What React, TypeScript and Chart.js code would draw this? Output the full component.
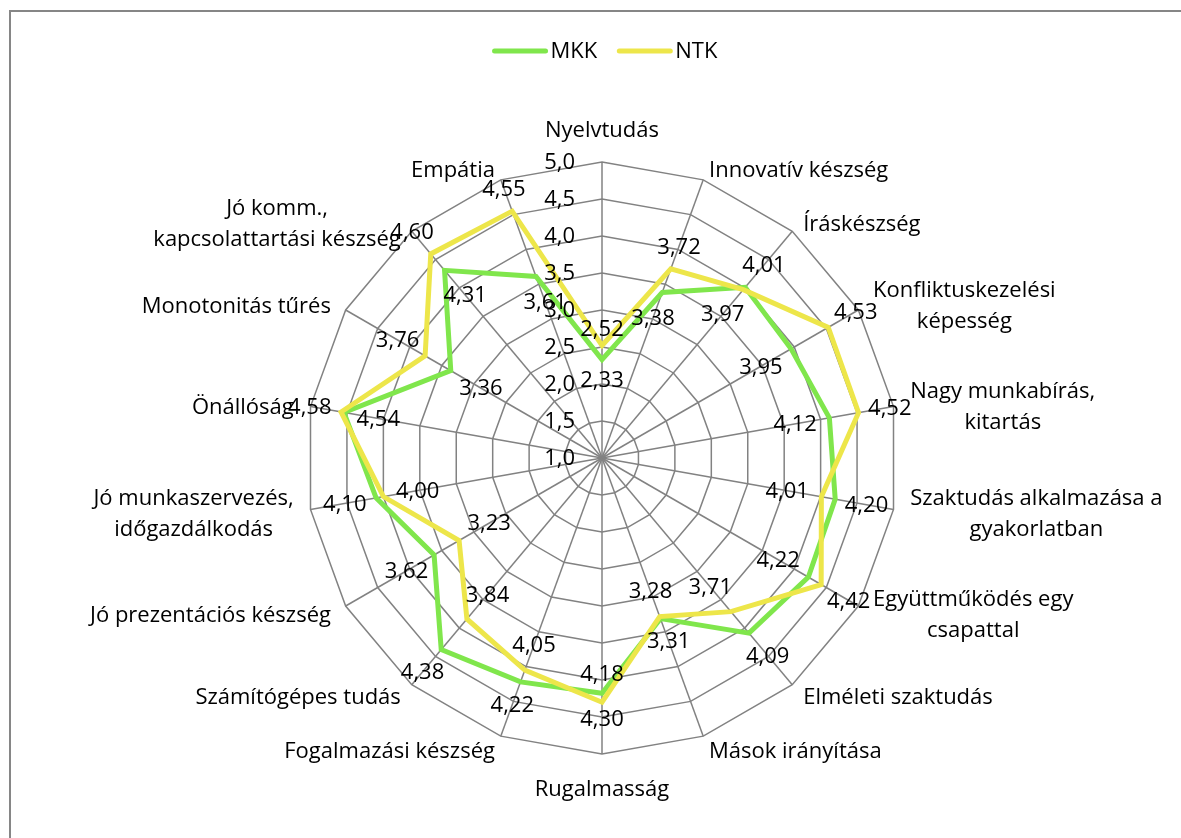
import React, { useEffect, useRef } from "react";
import { Chart, registerables } from "chart.js";

Chart.register(...registerables);

const categories: (string | string[])[] = [
  "Nyelvtudás",
  "Innovatív készség",
  "Íráskészség",
  ["Konfliktuskezelési", "képesség"],
  ["Nagy munkabírás,", "kitartás"],
  ["Szaktudás alkalmazása a", "gyakorlatban"],
  ["Együttműködés egy", "csapattal"],
  "Elméleti szaktudás",
  "Mások irányítása",
  "Rugalmasság",
  "Fogalmazási készség",
  "Számítógépes tudás",
  "Jó prezentációs készség",
  ["Jó munkaszervezés,", "időgazdálkodás"],
  "Önállóság",
  "Monotonitás tűrés",
  ["Jó komm.,", "kapcsolattartási készség"],
  "Empátia",
];

const mkkValues = [2.33, 3.38, 4.01, 3.95, 4.12, 4.2, 4.22, 4.09, 3.31, 4.18, 4.22, 4.38, 3.62, 4.1, 4.54, 3.36, 4.31, 3.61];
const ntkValues = [2.52, 3.72, 3.97, 4.53, 4.52, 4.01, 4.42, 3.71, 3.28, 4.3, 4.05, 3.84, 3.23, 4.0, 4.58, 3.76, 4.6, 4.55];
const tickValues = [1.0, 1.5, 2.0, 2.5, 3.0, 3.5, 4.0, 4.5, 5.0];
const seriesNames = ["MKK", "NTK"];
const seriesColors = ["#80E64C", "#EDE64A"];

const FONT = '22px "Open Sans"';
const fmt = (v: number, d: number) => v.toFixed(d).replace(".", ",");

const overlayPlugin = {
  id: "overlay",
  afterLayout(chart: any) {
    const r = chart.scales.r;
    const ca = chart.chartArea;
    r.xCenter = (ca.left + ca.right) / 2;
    r.yCenter = (ca.top + ca.bottom) / 2;
    r.drawingArea = Math.min(ca.right - ca.left, ca.bottom - ca.top) / 2;
  },
  beforeDraw(chart: any) {
    const ctx = chart.ctx;
    ctx.save();
    ctx.fillStyle = "#ffffff";
    ctx.fillRect(0, 0, chart.width, chart.height);
    ctx.strokeStyle = "#868686";
    ctx.lineWidth = 2;
    ctx.beginPath();
    ctx.moveTo(10, chart.height + 5);
    ctx.lineTo(10, 11);
    ctx.lineTo(chart.width + 5, 11);
    ctx.stroke();
    ctx.restore();
  },
  afterDatasetsDraw(chart: any) {
    const ctx = chart.ctx;
    const r = chart.scales.r;
    const n = categories.length;
    ctx.save();
    ctx.font = FONT;
    ctx.fillStyle = "#000000";

    // tick labels
    ctx.textAlign = "right";
    ctx.textBaseline = "middle";
    tickValues.forEach((v) => {
      const y = r.yCenter - r.getDistanceFromCenterForValue(v);
      ctx.fillText(fmt(v, 1), r.xCenter - 27, y + 1);
    });

    // category labels
    const lineH = 31;
    categories.forEach((lab, i) => {
      const lines = Array.isArray(lab) ? lab : [lab];
      const p = r.getPointPosition(i, r.drawingArea);
      const th = (i * 2 * Math.PI) / n;
      const s = Math.sin(th);
      const c = Math.cos(th);
      const widths = lines.map((l) => ctx.measureText(l).width);
      const bw = Math.max(...widths);
      const bh = lines.length * lineH;
      let cx: number;
      let cy: number;
      if (Math.abs(s) < 0.01) {
        cx = p.x;
        cy = p.y + (c > 0 ? -31 : 36);
      } else {
        const ex = p.x + 17 * s;
        cx = s > 0 ? ex + bw / 2 : ex - bw / 2;
        cy = p.y - 13 * c + 3;
      }
      ctx.textAlign = "center";
      ctx.textBaseline = "middle";
      lines.forEach((l, k) => {
        const y = cy - bh / 2 + lineH / 2 + k * lineH;
        ctx.fillText(l, cx, y);
      });
    });

    // data labels
    const series = [mkkValues, ntkValues];
    ctx.textAlign = "center";
    ctx.textBaseline = "middle";
    for (let i = 0; i < n; i++) {
      series.forEach((vals, k) => {
        const v = vals[i];
        const other = series[1 - k][i];
        const outward = v > other || (v === other && k === 1);
        const sign = outward ? 1 : -1;
        const p = r.getPointPositionForValue(i, v);
        const th = (i * 2 * Math.PI) / n;
        const dx = Math.sin(th);
        const dy = -Math.cos(th);
        const txt = fmt(v, 2);
        const w = ctx.measureText(txt).width;
        const h = 16;
        const support = Math.abs(dx) * (w / 2) + Math.abs(dy) * (h / 2);
        const gap = outward ? 9 : 12;
        const x = p.x + dx * sign * (support + gap);
        const y = p.y + dy * sign * (support + gap);
        ctx.fillText(txt, x, y + 1);
      });
    }

    // legend
    const lineLen = 55;
    const gapTxt = 3;
    const spacing = 20;
    const items = seriesNames.map((nm) => lineLen + gapTxt + ctx.measureText(nm).width);
    const total = items.reduce((a, b) => a + b, 0) + spacing * (items.length - 1);
    let x = 605 - total / 2;
    const ly = 51;
    seriesNames.forEach((nm, k) => {
      ctx.strokeStyle = seriesColors[k];
      ctx.lineWidth = 5;
      ctx.lineCap = "round";
      ctx.beginPath();
      ctx.moveTo(x + 2, ly);
      ctx.lineTo(x + lineLen - 2, ly);
      ctx.stroke();
      ctx.fillStyle = "#000000";
      ctx.textAlign = "left";
      ctx.textBaseline = "middle";
      ctx.fillText(nm, x + lineLen + gapTxt, ly + 1);
      x += items[k] + spacing;
    });
    ctx.restore();
  },
};

export default function App() {
  const ref = useRef<HTMLCanvasElement | null>(null);
  useEffect(() => {
    if (!ref.current) return;
    const chart = new Chart(ref.current, {
      type: "radar",
      data: {
        labels: categories,
        datasets: [
          {
            label: seriesNames[0],
            data: mkkValues,
            borderColor: seriesColors[0],
            backgroundColor: seriesColors[0],
            borderWidth: 5,
            fill: false,
            pointRadius: 0,
            borderJoinStyle: "miter",
            order: 1,
          },
          {
            label: seriesNames[1],
            data: ntkValues,
            borderColor: seriesColors[1],
            backgroundColor: seriesColors[1],
            borderWidth: 5,
            fill: false,
            pointRadius: 0,
            borderJoinStyle: "miter",
            order: 0,
          },
        ],
      },
      options: {
        responsive: false,
        animation: false,
        devicePixelRatio: 1,
        layout: { padding: { left: 306, right: 283, top: 162, bottom: 84 } },
        plugins: {
          legend: { display: false },
          tooltip: { enabled: false },
        },
        scales: {
          r: {
            min: 1,
            max: 5,
            startAngle: 0,
            ticks: { stepSize: 0.5, display: false },
            grid: { color: "#828282", lineWidth: 1.5 },
            angleLines: { color: "#828282", lineWidth: 1.5 },
            pointLabels: { display: false },
          },
        },
      } as any,
      plugins: [overlayPlugin],
    });
    return () => chart.destroy();
  }, []);
  return (
    <div style={{ position: "fixed", left: 0, top: 0, width: 1181, height: 838, background: "#fff" }}>
      <canvas ref={ref} width={1181} height={838} style={{ width: 1181, height: 838, display: "block" }} />
    </div>
  );
}
